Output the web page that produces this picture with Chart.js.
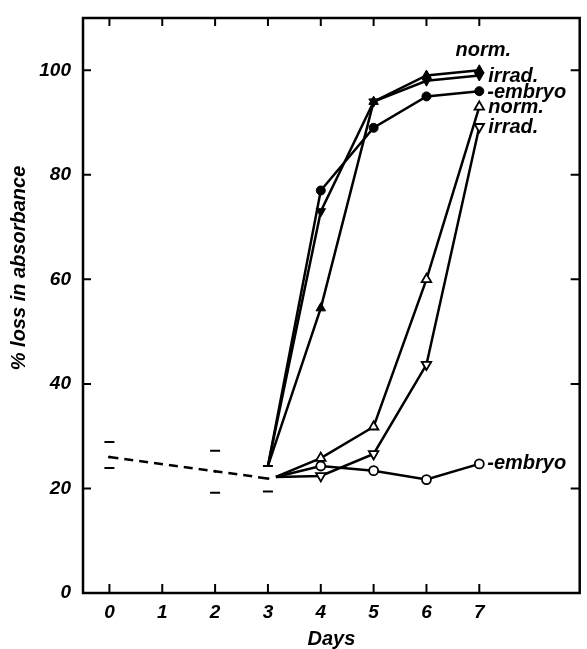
<!DOCTYPE html>
<html lang="en">
<head>
    <meta charset="UTF-8">
    <title>% loss in absorbance vs days</title>
    <script src="https://cdn.jsdelivr.net/npm/chart.js"></script>
    <style>
        * {
            padding: 0;
            margin: 0;
            box-sizing: border-box;
        }

        body {
            background: #ffffff;
        }

        canvas {
            display: block;
        }
    </style>
</head>

<body>
    <canvas id="chart" width="587" height="649"></canvas>

    <script>
        // x: days, y: % loss in absorbance
        const xTicks = [0, 1, 2, 3, 4, 5, 6, 7];
        const yTicks = [0, 20, 40, 60, 80, 100];

        // filled symbols (start at day 3)
        const days = [3, 4, 5, 6, 7];
        const normFilled = [24.3, 54.5, 94, 99, 100];
        const irradFilled = [24.3, 73, 94, 98, 99];
        const embryoFilled = [24.3, 77, 89, 95, 96];

        // open symbols
        const openDays = [3.15, 4, 5, 6, 7];
        const normOpen = [22.2, 25.8, 31.8, 60, 93];
        const irradOpen = [22.2, 22.4, 26.6, 43.7, 89.2];
        const embryoOpen = [22.2, 24.3, 23.4, 21.7, 24.7];

        // dashed control line with range marks
        const ctrlDays = [0, 2, 3];
        const ctrlMean = [26, 23.3, 21.9];
        const ctrlHigh = [28.9, 27.2, 24.3];
        const ctrlLow = [23.9, 19.2, 19.4];

        const fontFamily = '"Liberation Sans", sans-serif';

        function pts(xs, ys) {
            return xs.map((x, i) => ({ x: x, y: ys[i] }));
        }

        function series(xs, ys, style, filled, rotation) {
            const r = style === 'circle' ? 4.5 : 5.5;
            return {
                data: pts(xs, ys),
                borderColor: '#000',
                borderWidth: 2.5,
                pointStyle: style,
                pointRotation: rotation || 0,
                // first point is just where the curve starts, no symbol there
                pointRadius: c => c.dataIndex === 0 ? 0 : r,
                pointBackgroundColor: filled ? '#000' : '#fff',
                pointBorderColor: '#000',
                pointBorderWidth: filled ? 1 : 1.8,
                showLine: true,
                tension: 0
            };
        }

        // frame, inward ticks, axis titles
        const framePlugin = {
            id: 'frame',
            afterDatasetsDraw(chart) {
                const ctx = chart.ctx;
                const a = chart.chartArea;
                const xs = chart.scales.x;
                const ys = chart.scales.y;
                ctx.save();
                ctx.strokeStyle = '#000';
                ctx.lineWidth = 2.5;
                ctx.strokeRect(a.left, a.top, a.right - a.left, a.bottom - a.top);
                ctx.lineWidth = 2;
                ctx.beginPath();
                xTicks.forEach(v => {
                    const px = xs.getPixelForValue(v);
                    ctx.moveTo(px, a.bottom);
                    ctx.lineTo(px, a.bottom - 9);
                    ctx.moveTo(px, a.top);
                    ctx.lineTo(px, a.top + 8);
                });
                yTicks.forEach(v => {
                    if (v === 0) return;
                    const py = ys.getPixelForValue(v);
                    ctx.moveTo(a.left, py);
                    ctx.lineTo(a.left + 8, py);
                    ctx.moveTo(a.right, py);
                    ctx.lineTo(a.right - 9, py);
                });
                ctx.stroke();

                ctx.fillStyle = '#000';
                ctx.font = 'italic bold 20px ' + fontFamily;
                ctx.textAlign = 'center';
                ctx.textBaseline = 'middle';
                ctx.fillText('Days', (a.left + a.right) / 2, 639);
                ctx.translate(19, 268);
                ctx.rotate(-Math.PI / 2);
                ctx.fillText('% loss in absorbance', 0, 0);
                ctx.restore();
            }
        };

        // curve labels next to the day-7 points
        const labelPlugin = {
            id: 'curveLabels',
            afterDatasetsDraw(chart) {
                const ctx = chart.ctx;
                const labels = [
                    { ds: 0, text: 'norm.', dx: 4, dy: -20, align: 'center' },
                    { ds: 1, text: 'irrad.', dx: 9, dy: 1, align: 'left' },
                    { ds: 2, text: '-embryo', dx: 8, dy: 1, align: 'left' },
                    { ds: 3, text: 'norm.', dx: 9, dy: 1, align: 'left' },
                    { ds: 4, text: 'irrad.', dx: 9, dy: 1, align: 'left' },
                    { ds: 5, text: '-embryo', dx: 8, dy: 0, align: 'left' }
                ];
                ctx.save();
                ctx.fillStyle = '#000';
                ctx.font = 'italic bold 20px ' + fontFamily;
                ctx.textBaseline = 'middle';
                labels.forEach(l => {
                    const meta = chart.getDatasetMeta(l.ds);
                    const p = meta.data[meta.data.length - 1];
                    ctx.textAlign = l.align;
                    ctx.fillText(l.text, p.x + l.dx, p.y + l.dy);
                });
                ctx.restore();
            }
        };

        new Chart(document.getElementById('chart'), {
            type: 'scatter',
            data: {
                datasets: [
                    series(days, normFilled, 'triangle', true),
                    series(days, irradFilled, 'triangle', true, 180),
                    series(days, embryoFilled, 'circle', true),
                    series(openDays, normOpen, 'triangle', false),
                    series(openDays, irradOpen, 'triangle', false, 180),
                    series(openDays, embryoOpen, 'circle', false),
                    {
                        data: pts(ctrlDays, ctrlMean),
                        borderColor: '#000',
                        borderWidth: 2.5,
                        borderDash: [9, 6],
                        pointRadius: 1.5,
                        pointBackgroundColor: '#000',
                        pointBorderWidth: 0,
                        showLine: true
                    },
                    {
                        data: pts(ctrlDays, ctrlHigh),
                        pointStyle: 'line',
                        pointRadius: 5,
                        pointBorderColor: '#000',
                        pointBorderWidth: 2,
                        showLine: false
                    },
                    {
                        data: pts(ctrlDays, ctrlLow),
                        pointStyle: 'line',
                        pointRadius: 5,
                        pointBorderColor: '#000',
                        pointBorderWidth: 2,
                        showLine: false
                    }
                ]
            },
            options: {
                responsive: false,
                animation: false,
                devicePixelRatio: 1,
                layout: {
                    padding: { left: 0, top: 18, right: 7, bottom: 0 }
                },
                plugins: {
                    legend: { display: false },
                    tooltip: { enabled: false }
                },
                scales: {
                    x: {
                        type: 'linear',
                        min: -0.5,
                        max: 8.9,
                        afterBuildTicks: s => { s.ticks = xTicks.map(v => ({ value: v })); },
                        afterFit: s => { s.height = 56; s.paddingLeft = 0; s.paddingRight = 0; },
                        grid: { display: false, drawTicks: false },
                        border: { display: false },
                        ticks: {
                            color: '#000',
                            padding: 8,
                            font: { family: fontFamily, size: 19, style: 'italic', weight: 'bold' }
                        }
                    },
                    y: {
                        min: 0,
                        max: 110,
                        afterBuildTicks: s => { s.ticks = yTicks.map(v => ({ value: v })); },
                        afterFit: s => { s.width = 83; s.paddingTop = 0; s.paddingBottom = 0; },
                        grid: { display: false, drawTicks: false },
                        border: { display: false },
                        ticks: {
                            color: '#000',
                            padding: 12,
                            font: { family: fontFamily, size: 19, style: 'italic', weight: 'bold' }
                        }
                    }
                }
            },
            plugins: [framePlugin, labelPlugin]
        });
    </script>
</body>
</html>
